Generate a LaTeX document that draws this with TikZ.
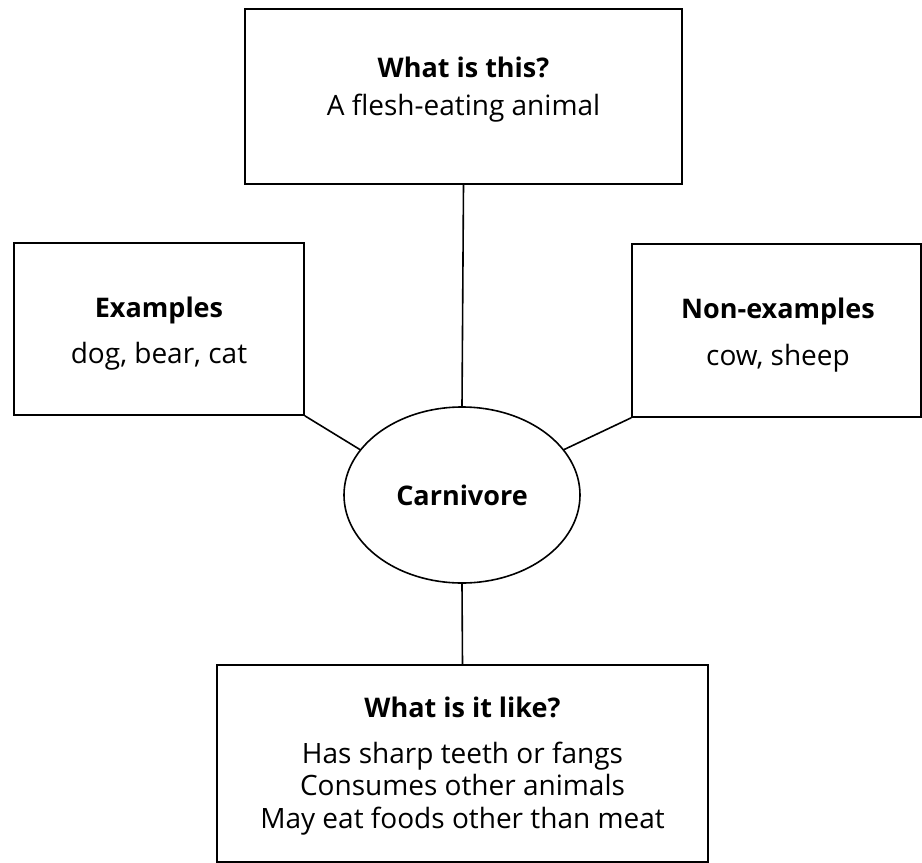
\documentclass[tikz,border=0pt]{standalone}
\usepackage{fontspec}
\setmainfont{Open Sans}
\usetikzlibrary{shapes.geometric}
\begin{document}
\begin{tikzpicture}[x=1pt,y=-1pt,
  boxshape/.style={draw=black,line width=1.6pt,rectangle,inner sep=0pt},
  ellshape/.style={draw=black,line width=1.6pt,ellipse,inner sep=0pt,minimum width=236pt,minimum height=176pt},
  head/.style={anchor=base,inner sep=0pt,font=\fontsize{27}{32}\selectfont\bfseries},
  body/.style={anchor=base,inner sep=0pt,font=\fontsize{28}{32}\selectfont},
  conn/.style={draw=black,line width=1.6pt}]
\useasboundingbox (0,0) rectangle (922,863);
\fill[white] (0,0) rectangle (922,863);
% boxes
\node[boxshape,minimum width=437pt,minimum height=175pt] (top) at (463.5,96.5) {};
\node[boxshape,minimum width=290pt,minimum height=172pt] (left) at (159,329) {};
\node[boxshape,minimum width=289pt,minimum height=173pt] (right) at (776.5,330.5) {};
\node[boxshape,minimum width=491pt,minimum height=197pt] (bottom) at (462.5,763.5) {};
\node[ellshape] (ell) at (462,495) {};
% texts
\node[head] (t1) at (463.5,77) {What is this?};
\node[body] (t2) at (463.5,115) {A flesh-eating animal};
\node[head] (l1) at (159,317) {Examples};
\node[body] (l2) at (159,363) {dog, bear, cat};
\node[head] (r1) at (778,318) {Non-examples};
\node[body] (r2) at (778,365) {cow, sheep};
\node[head] (c1) at (462,505) {Carnivore};
\node[head] (b0) at (462.5,717) {What is it like?};
\node[body] (b1) at (462.5,763) {Has sharp teeth or fangs};
\node[body] (b2) at (462.5,795) {Consumes other animals};
\node[body] (b3) at (462.5,828) {May eat foods other than meat};
% connectors
\draw[conn] (top.south) -- (ell.north);
\draw[conn] (left.south east) -- (ell.156);
\draw[conn] (right.south west) -- (ell.24);
\draw[conn] (ell.south) -- (bottom.north);
\end{tikzpicture}
\end{document}
